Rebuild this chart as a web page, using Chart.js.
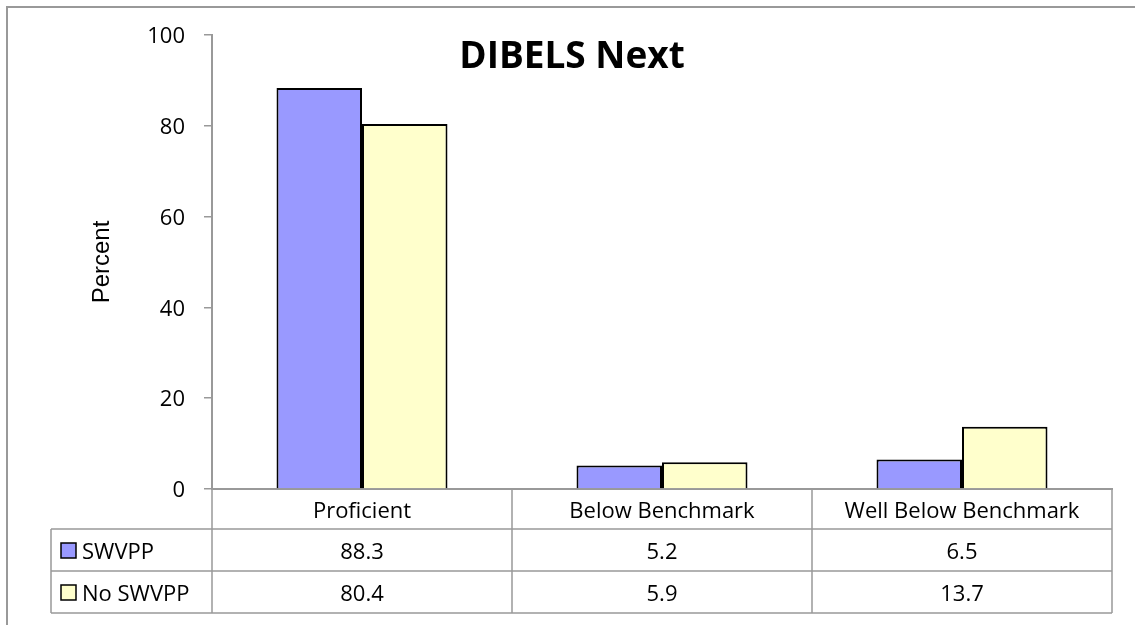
<!DOCTYPE html>
<html>
<head>
<meta charset="utf-8">
<script src="https://cdn.jsdelivr.net/npm/chart.js@4.4.1/dist/chart.umd.min.js"></script>
<style>
    html, body { margin: 0; padding: 0; background: #fff; }
    canvas { display: block; }
</style>
</head>
<body>
<canvas id="chart" width="1135" height="625"></canvas>
<script>
    'use strict';

    var categories = ['Proficient', 'Below Benchmark', 'Well Below Benchmark'];
    var seriesNames = ['SWVPP', 'No SWVPP'];
    var swvppValues = [88.3, 5.2, 6.5];
    var noSwvppValues = [80.4, 5.9, 13.7];
    var yTicks = [0, 20, 40, 60, 80, 100];

    var colors = ['#9999FF', '#FFFFCC'];
    var lineGray = '#999999';
    var tableFont = '22px "Open Sans"';

    /**
     * Frame, chart title and the data table under the plot
     */
    var tablePlugin = {
        id: 'dataTable',
        beforeDraw: function (chart) {
            var ctx = chart.ctx;
            ctx.save();
            ctx.strokeStyle = lineGray;
            ctx.lineWidth = 2;
            ctx.beginPath();
            ctx.moveTo(7, 625);
            ctx.lineTo(7, 7);
            ctx.lineTo(1135, 7);
            ctx.stroke();
            ctx.restore();
        },
        afterDraw: function (chart) {
            var ctx = chart.ctx;
            var x = chart.scales.x;
            var area = chart.chartArea;
            var half = (area.right - area.left) / categories.length / 2;
            var rows = [area.bottom, area.bottom + 40, area.bottom + 82, area.bottom + 124];
            var legendLeft = 51;
            var series = [swvppValues, noSwvppValues];

            ctx.save();

            // title
            ctx.fillStyle = '#000';
            ctx.font = 'bold 37px "Open Sans"';
            ctx.textAlign = 'center';
            ctx.textBaseline = 'middle';
            ctx.fillText('DIBELS Next', 572, 57);

            // table lines
            ctx.strokeStyle = lineGray;
            ctx.lineWidth = 1.5;
            ctx.beginPath();
            ctx.moveTo(area.left, rows[0]);
            ctx.lineTo(area.left, rows[3]);
            ctx.moveTo(legendLeft, rows[1]);
            ctx.lineTo(legendLeft, rows[3]);
            categories.forEach(function (c, i) {
                var right = x.getPixelForValue(i) + half;
                ctx.moveTo(right, rows[0]);
                ctx.lineTo(right, rows[3]);
            });
            [1, 2, 3].forEach(function (r) {
                ctx.moveTo(legendLeft, rows[r]);
                ctx.lineTo(area.right, rows[r]);
            });
            ctx.stroke();

            // category labels and values
            ctx.fillStyle = '#000';
            ctx.font = tableFont;
            ctx.textAlign = 'center';
            categories.forEach(function (c, i) {
                var cx = x.getPixelForValue(i);
                ctx.fillText(c, cx, (rows[0] + rows[1]) / 2 + 3);
                series.forEach(function (vals, s) {
                    ctx.fillText(vals[i].toFixed(1), cx, (rows[s + 1] + rows[s + 2]) / 2 + 3);
                });
            });

            // legend keys
            ctx.textAlign = 'left';
            seriesNames.forEach(function (name, s) {
                var cy = (rows[s + 1] + rows[s + 2]) / 2;
                ctx.fillStyle = colors[s];
                ctx.fillRect(61, cy - 7, 15, 15);
                ctx.strokeStyle = '#000';
                ctx.lineWidth = 1.5;
                ctx.strokeRect(61, cy - 7, 15, 15);
                ctx.fillStyle = '#000';
                ctx.fillText(name, 82, cy + 3);
            });

            ctx.restore();
        }
    };

    new Chart(document.getElementById('chart').getContext('2d'), {
        type: 'bar',
        data: {
            labels: categories,
            datasets: [
                {
                    label: seriesNames[0],
                    data: swvppValues,
                    backgroundColor: colors[0],
                    borderColor: '#000',
                    borderWidth: 2
                },
                {
                    label: seriesNames[1],
                    data: noSwvppValues,
                    backgroundColor: colors[1],
                    borderColor: '#000',
                    borderWidth: 2
                }
            ]
        },
        options: {
            responsive: false,
            animation: false,
            devicePixelRatio: 1,
            categoryPercentage: 0.57,
            barPercentage: 1,
            layout: {
                padding: { left: 52, top: 35, right: 23, bottom: 136 }
            },
            plugins: {
                legend: { display: false },
                tooltip: { enabled: false }
            },
            scales: {
                x: {
                    ticks: { display: false },
                    grid: { display: false },
                    border: { display: true, color: lineGray, width: 2 },
                    afterFit: function (scale) { scale.height = 0; }
                },
                y: {
                    min: 0,
                    max: 100,
                    afterBuildTicks: function (scale) {
                        scale.ticks = yTicks.map(function (v) { return { value: v }; });
                    },
                    ticks: {
                        color: '#000',
                        font: { family: 'Open Sans', size: 22 },
                        padding: 19,
                        labelOffset: 2
                    },
                    grid: {
                        drawOnChartArea: false,
                        drawTicks: true,
                        tickLength: 8,
                        color: lineGray,
                        lineWidth: 1.5
                    },
                    border: { color: lineGray, width: 2 },
                    title: {
                        display: true,
                        text: 'Percent',
                        color: '#000',
                        font: { family: 'Liberation Sans', size: 24 },
                        padding: { top: 36, bottom: 0 }
                    },
                    afterFit: function (scale) { scale.width = 160; }
                }
            }
        },
        plugins: [tablePlugin]
    });
</script>
</body>
</html>
